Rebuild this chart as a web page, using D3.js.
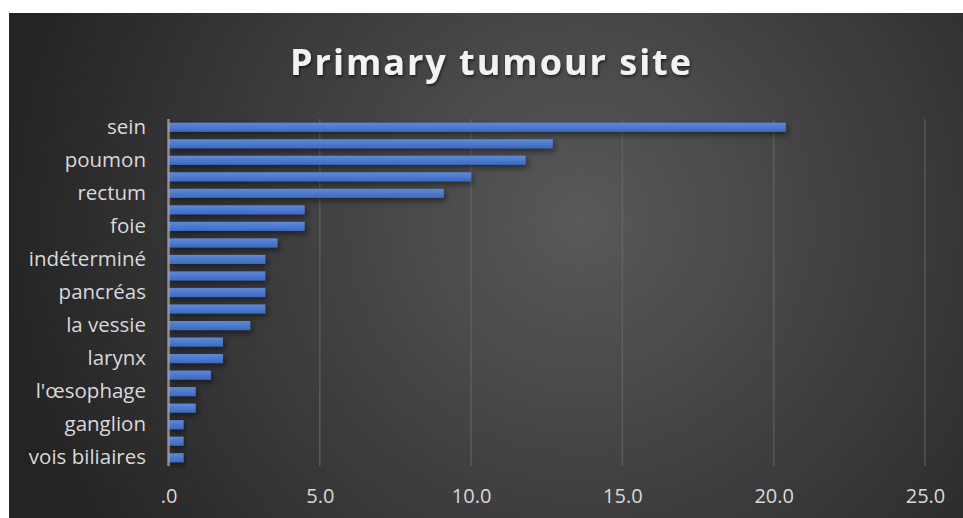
<!DOCTYPE html>
<html>
<head>
<meta charset="utf-8">
<script src="https://cdn.jsdelivr.net/npm/d3@7"></script>
<style>
  body { margin: 0; background: #fff; }
  svg { display: block; }
</style>
</head>
<body>
<script>
// categories top to bottom (only every other one is labelled in the original)
var categories = ['sein', '', 'poumon', '', 'rectum', '', 'foie', '', 'indéterminé', '',
                  'pancréas', '', 'la vessie', '', 'larynx', '', "l'œsophage", '', 'ganglion', '', 'vois biliaires'];
// percentage per site
var values = [20.4, 12.7, 11.8, 10.0, 9.1, 4.5, 4.5, 3.6, 3.2, 3.2,
              3.2, 3.2, 2.7, 1.8, 1.8, 1.4, 0.9, 0.9, 0.5, 0.5, 0.5];
var xTicks = [0, 5, 10, 15, 20, 25];
var title = 'Primary tumour site';

var width = 963, height = 518;

var svg = d3.select('body').append('svg')
    .attr('width', width)
    .attr('height', height);

var defs = svg.append('defs');

//dark background, lighter in the middle
var bg = defs.append('radialGradient')
    .attr('id', 'bgGrad')
    .attr('gradientUnits', 'userSpaceOnUse')
    .attr('cx', 580).attr('cy', 220).attr('r', 580);
bg.append('stop').attr('offset', '0%').attr('stop-color', '#595959');
bg.append('stop').attr('offset', '100%').attr('stop-color', '#242424');

var barGrad = defs.append('linearGradient')
    .attr('id', 'barGrad')
    .attr('x1', 0).attr('y1', 0).attr('x2', 0).attr('y2', 1);
barGrad.append('stop').attr('offset', '0%').attr('stop-color', '#5e8ada');
barGrad.append('stop').attr('offset', '100%').attr('stop-color', '#3a69c5');

var shadow = defs.append('filter').attr('id', 'shadow')
    .attr('x', '-20%').attr('y', '-60%').attr('width', '140%').attr('height', '280%');
shadow.append('feDropShadow')
    .attr('dx', 2).attr('dy', 3).attr('stdDeviation', 3)
    .attr('flood-color', '#000').attr('flood-opacity', 0.5);

var titleShadow = defs.append('filter').attr('id', 'tshadow');
titleShadow.append('feDropShadow')
    .attr('dx', 1).attr('dy', 2).attr('stdDeviation', 1.5)
    .attr('flood-color', '#000').attr('flood-opacity', 0.55);

svg.append('rect')
    .attr('x', 9).attr('y', 13)
    .attr('width', width - 9).attr('height', height - 13)
    .attr('fill', 'url(#bgGrad)');

var x = d3.scaleLinear().domain([0, 25]).range([168.5, 925]);
var y = d3.scaleBand()
    .domain(d3.range(categories.length))
    .range([119, 466])
    .paddingInner(0.45)
    .paddingOuter(0.225);

//vertical gridlines
svg.append('g').selectAll('line')
    .data(xTicks.slice(1))
    .enter().append('line')
    .attr('x1', function (d) { return x(d); })
    .attr('x2', function (d) { return x(d); })
    .attr('y1', 119).attr('y2', 466)
    .attr('stroke', '#6a6a6a')
    .attr('stroke-opacity', 0.6)
    .attr('stroke-width', 1.5);

//bars
svg.append('g').selectAll('rect')
    .data(values)
    .enter().append('rect')
    .attr('x', x(0))
    .attr('y', function (d, i) { return y(i); })
    .attr('width', function (d) { return x(d) - x(0); })
    .attr('height', y.bandwidth())
    .attr('fill', 'url(#barGrad)')
    .attr('filter', 'url(#shadow)');

//category axis line
svg.append('line')
    .attr('x1', x(0)).attr('x2', x(0))
    .attr('y1', 119).attr('y2', 466)
    .attr('stroke', '#a6a6a6')
    .attr('stroke-opacity', 0.8)
    .attr('stroke-width', 2.5);

var yAxis = svg.append('g')
    .attr('transform', 'translate(146,0)')
    .call(d3.axisLeft(y).tickSize(0).tickPadding(0)
        .tickFormat(function (i) { return categories[i]; }));
yAxis.select('.domain').remove();
yAxis.selectAll('text')
    .attr('fill', '#d9d9d9')
    .style('font-family', '"Open Sans", sans-serif')
    .style('font-size', '20.5px');

var xAxis = svg.append('g')
    .attr('transform', 'translate(0,466)')
    .call(d3.axisBottom(x).tickValues(xTicks).tickSize(0).tickPadding(23)
        .tickFormat(function (d) { return d === 0 ? '.0' : d3.format('.1f')(d); }));
xAxis.select('.domain').remove();
xAxis.selectAll('text')
    .attr('fill', '#d9d9d9')
    .style('font-family', '"Open Sans", sans-serif')
    .style('font-size', '20px');

svg.append('text')
    .attr('x', 290).attr('y', 75)
    .attr('textLength', 401)
    .attr('lengthAdjust', 'spacing')
    .attr('fill', '#f2f2f2')
    .attr('filter', 'url(#tshadow)')
    .style('font-family', '"Open Sans", sans-serif')
    .style('font-weight', 'bold')
    .style('font-size', '36px')
    .text(title);
</script>
</body>
</html>
